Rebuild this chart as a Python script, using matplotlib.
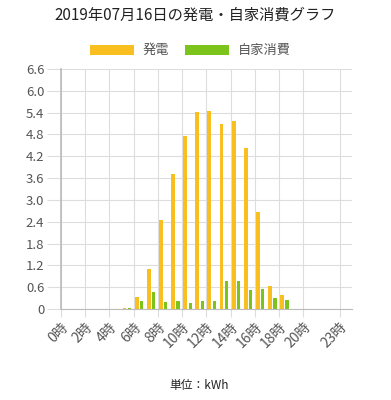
import numpy as np
import matplotlib
matplotlib.use("Agg")
from matplotlib import pyplot as plt
from matplotlib.patches import Patch

plt.rcParams['font.family'] = ['Noto Sans CJK JP', 'DejaVu Sans']

# hourly values (kWh)
hours = np.arange(24)
generation = [0, 0, 0, 0, 0, 0.04, 0.32, 1.10, 2.45, 3.72, 4.77, 5.41,
              5.44, 5.10, 5.16, 4.44, 2.67, 0.62, 0.38, 0, 0, 0, 0, 0]
self_use = [0, 0, 0, 0, 0, 0.04, 0.23, 0.46, 0.20, 0.23, 0.17, 0.23,
            0.23, 0.77, 0.77, 0.53, 0.55, 0.31, 0.26, 0, 0, 0, 0, 0]
tick_hours = [0, 2, 4, 6, 8, 10, 12, 14, 16, 18, 20, 23]
tick_labels = [f"{h}時" for h in tick_hours]
y_ticks = [0, 0.6, 1.2, 1.8, 2.4, 3.0, 3.6, 4.2, 4.8, 5.4, 6.0, 6.6]
y_labels = ["0", "0.6", "1.2", "1.8", "2.4", "3.0", "3.6", "4.2", "4.8", "5.4", "6.0", "6.6"]

yellow = "#F9BE1F"
green = "#7CC31C"
grid_c = "#DDDDDD"

fig = plt.figure(figsize=(3.91, 4.0), dpi=100)
ax = fig.add_axes([0.156, 0.2275, 0.744, 0.6])

ax.bar(hours + 0.08, generation, width=0.32, align="edge", color=yellow, linewidth=0)
ax.bar(hours + 0.52, self_use, width=0.26, align="edge", color=green, linewidth=0)

ax.set_xlim(0, 24)
ax.set_ylim(0, 6.6)
ax.set_yticks(y_ticks)
ax.set_yticklabels(y_labels, fontsize=9.5, color="#555555")
ax.set_xticks(tick_hours)
ax.set_xticklabels(tick_labels, rotation=45, ha="right", va="top",
                   rotation_mode="anchor", fontsize=10, color="#555555")
ax.tick_params(axis="y", length=10, color=grid_c, pad=2)
ax.tick_params(axis="x", length=6, color=grid_c, pad=2)

ax.grid(True, color=grid_c, linewidth=0.8)
ax.set_axisbelow(True)
for s in ["top", "right"]:
    ax.spines[s].set_visible(False)
ax.spines["left"].set_color("#BBBBBB")
ax.spines["left"].set_linewidth(1.2)
ax.spines["bottom"].set_color("#BBBBBB")

fig.text(0.5, 0.962, "2019年07月16日の発電・自家消費グラフ", ha="center", va="center",
         fontsize=11, color="#222222")

handles = [Patch(facecolor=yellow, label="発電"), Patch(facecolor=green, label="自家消費")]
fig.legend(handles=handles, loc="center", bbox_to_anchor=(0.487, 0.873), ncol=2,
           frameon=False, fontsize=9.5, handlelength=3.3, handleheight=0.8,
           columnspacing=1.2, handletextpad=0.7, labelcolor="#555555")

fig.text(0.51, 0.037, "単位：kWh", ha="center", va="center", fontsize=8.5, color="#222222")

fig.savefig("out.png", dpi=100)
